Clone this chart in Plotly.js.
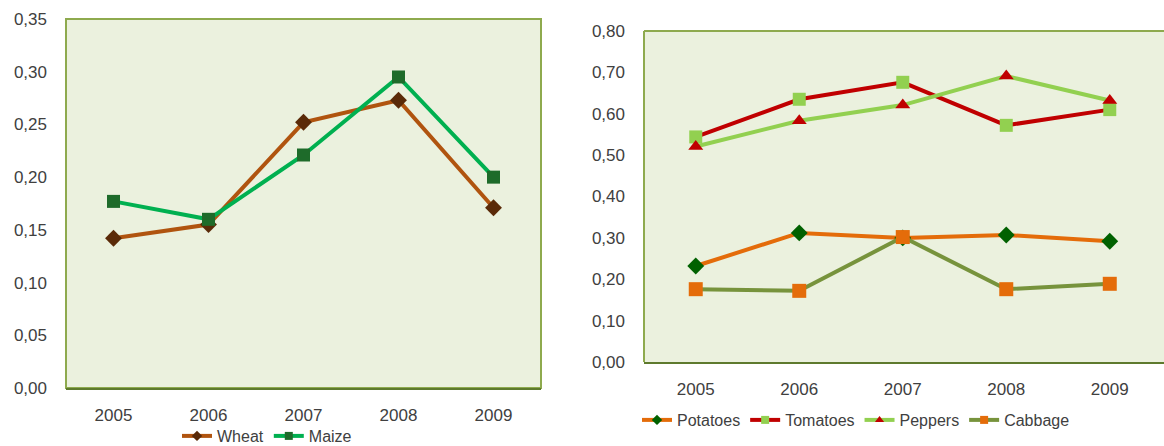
<!DOCTYPE html>
<html>
<head>
<meta charset="utf-8">
<script src="https://cdn.plot.ly/plotly-3.0.1.min.js"></script>
<style>html,body{margin:0;padding:0;background:#fff;}#chart{width:1164px;height:446px;}</style>
</head>
<body>
<div id="chart"></div>
<script>
// Categories
const years = ['2005', '2006', '2007', '2008', '2009'];

// Left chart series
const wheat = [0.142, 0.155, 0.252, 0.273, 0.171];
const maize = [0.177, 0.160, 0.221, 0.295, 0.200];

// Right chart series
const potatoes = [0.232, 0.312, 0.300, 0.307, 0.292];
const tomatoes = [0.544, 0.635, 0.676, 0.572, 0.610];
const peppers  = [0.521, 0.583, 0.621, 0.691, 0.632];
const cabbage  = [0.176, 0.172, 0.302, 0.176, 0.189];

// Tick values
const leftTicks  = [0, 0.05, 0.10, 0.15, 0.20, 0.25, 0.30, 0.35];
const rightTicks = [0, 0.10, 0.20, 0.30, 0.40, 0.50, 0.60, 0.70, 0.80];

const W = 1164, H = 446;
const fx = p => p / W, fy = p => 1 - p / H;

const series = [
  {name: 'Wheat', y: wheat, ax: 1, line: '#B0540F', sym: 'diamond', size: 13, mc: '#5A2A08'},
  {name: 'Maize', y: maize, ax: 1, line: '#00B050', sym: 'square', size: 13, mc: '#1E6B2A'},
  {name: 'Potatoes', y: potatoes, ax: 2, line: '#E46C0A', sym: 'diamond', size: 13, mc: '#006100'},
  {name: 'Tomatoes', y: tomatoes, ax: 2, line: '#C00000', sym: 'square', size: 13, mc: '#92D050'},
  {name: 'Peppers', y: peppers, ax: 2, line: '#92D050', sym: 'triangle-up', size: 13, mc: '#C00000'},
  {name: 'Cabbage', y: cabbage, ax: 2, line: '#77933C', sym: 'square', size: 14, mc: '#E46C0A'}
];

const traces = [];
series.forEach(s => {
  const xa = s.ax === 1 ? 'x' : 'x2', ya = s.ax === 1 ? 'y' : 'y2';
  traces.push({x: years, y: s.y, name: s.name, xaxis: xa, yaxis: ya, showlegend: false,
    mode: 'lines+markers', line: {color: s.line, width: 4},
    marker: {symbol: s.sym, size: s.size, color: s.mc}});
});
// legend entries (smaller legend symbols, as in the reference)
series.forEach(s => {
  const xa = s.ax === 1 ? 'x' : 'x2', ya = s.ax === 1 ? 'y' : 'y2';
  traces.push({x: [null], y: [null], name: s.name, xaxis: xa, yaxis: ya, showlegend: true,
    legend: s.ax === 1 ? 'legend' : 'legend2',
    mode: 'lines+markers', line: {color: s.line, width: 4},
    marker: {symbol: s.sym, size: 8, color: s.mc}});
});

const tickFont = {family: 'Liberation Sans, Arial, sans-serif', size: 17, color: '#404040'};
const legFont = {family: 'Liberation Sans, Arial, sans-serif', size: 16, color: '#404040'};

const layout = {
  width: W, height: H,
  margin: {l: 0, r: 0, t: 0, b: 0, autoexpand: false},
  paper_bgcolor: '#ffffff',
  plot_bgcolor: '#EBF1DE',
  separators: ', ',
  showlegend: true,
  hovermode: false,
  font: tickFont,
  xaxis: {domain: [fx(66), fx(541)], type: 'category', range: [-0.5, 4.5],
          showgrid: false, zeroline: false, showline: true, linecolor: '#5E7A2E', linewidth: 2,
          ticks: '', tickfont: tickFont, ticklabelstandoff: 11, fixedrange: true, automargin: false},
  yaxis: {domain: [fy(388), fy(19)], range: [0, 0.35], tickvals: leftTicks, tickformat: '.2f',
          showgrid: false, zeroline: false, showline: false, ticks: '',
          tickfont: tickFont, ticklabelstandoff: 18, fixedrange: true, automargin: false},
  xaxis2: {domain: [fx(644), 1], type: 'category', range: [-0.5, 4.524],
           showgrid: false, zeroline: false, showline: true, linecolor: '#5E7A2E', linewidth: 2,
           ticks: '', tickfont: tickFont, ticklabelstandoff: 11, fixedrange: true, anchor: 'y2', automargin: false},
  yaxis2: {domain: [fy(362), fy(31)], range: [0, 0.80], tickvals: rightTicks, tickformat: '.2f',
           showgrid: false, zeroline: false, showline: false, ticks: '',
           tickfont: tickFont, ticklabelstandoff: 18, fixedrange: true, anchor: 'x2', automargin: false},
  legend: {orientation: 'h', x: fx(267), xanchor: 'center', y: fy(436), yanchor: 'middle',
           font: legFont, bgcolor: 'rgba(0,0,0,0)', itemwidth: 30, tracegroupgap: 0,
           traceorder: 'normal'},
  legend2: {orientation: 'h', x: fx(856), xanchor: 'center', y: fy(420), yanchor: 'middle',
            font: legFont, bgcolor: 'rgba(0,0,0,0)', itemwidth: 30, tracegroupgap: 0,
            traceorder: 'normal'},
  shapes: [
    {type: 'rect', xref: 'x domain', yref: 'y domain', x0: 0, x1: 1, y0: 0, y1: 1,
     line: {color: '#8EAA4E', width: 2}, layer: 'below'},
    {type: 'line', xref: 'x2 domain', yref: 'y2 domain', x0: 0, x1: 1, y0: 1, y1: 1,
     line: {color: '#8EAA4E', width: 2}},
    {type: 'line', xref: 'x2 domain', yref: 'y2 domain', x0: 0, x1: 0, y0: 0, y1: 1,
     line: {color: '#8EAA4E', width: 2}}
  ]
};

Plotly.newPlot('chart', traces, layout, {displayModeBar: false, staticPlot: true});
</script>
</body>
</html>
